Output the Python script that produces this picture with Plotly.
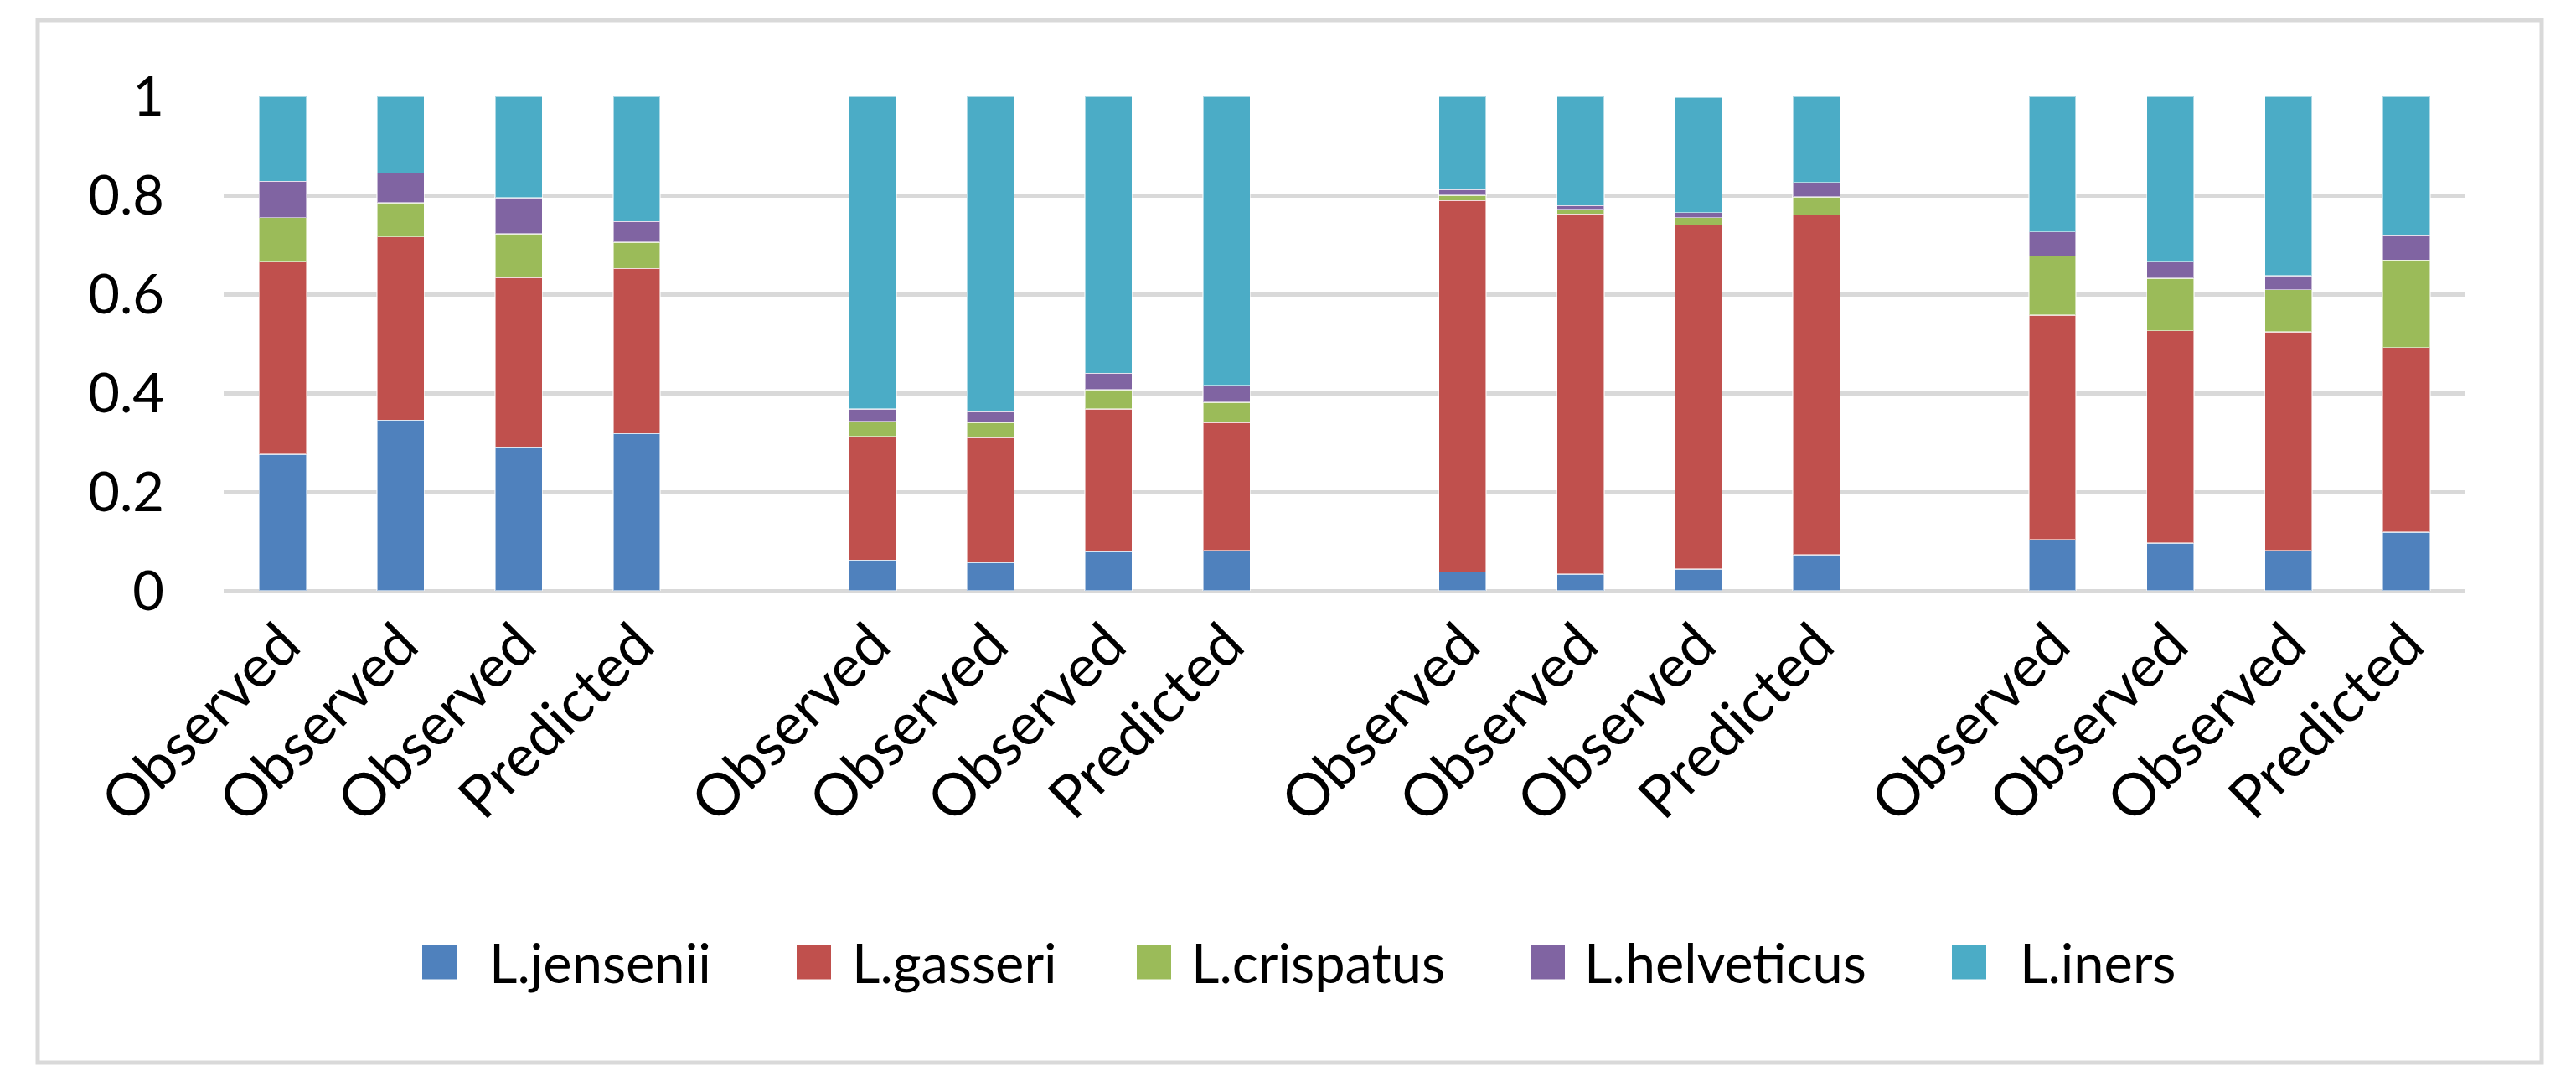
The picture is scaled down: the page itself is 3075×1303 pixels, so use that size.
import plotly.graph_objects as go

# ---- data ----
labels = ["Observed", "Observed", "Observed", "Predicted"] * 4
series = ["L.jensenii", "L.gasseri", "L.crispatus", "L.helveticus", "L.iners"]
jensenii   = [0.276, 0.345, 0.291, 0.318, 0.062, 0.058, 0.079, 0.082,
              0.038, 0.034, 0.044, 0.073, 0.104, 0.097, 0.081, 0.119]
gasseri    = [0.389, 0.371, 0.343, 0.334, 0.250, 0.252, 0.289, 0.258,
              0.751, 0.728, 0.696, 0.687, 0.454, 0.429, 0.443, 0.373]
crispatus  = [0.090, 0.069, 0.088, 0.053, 0.030, 0.030, 0.039, 0.041,
              0.011, 0.009, 0.015, 0.037, 0.119, 0.106, 0.085, 0.177]
helveticus = [0.073, 0.060, 0.073, 0.042, 0.026, 0.023, 0.033, 0.035,
              0.012, 0.008, 0.010, 0.029, 0.049, 0.033, 0.028, 0.050]
iners      = [0.172, 0.155, 0.205, 0.253, 0.632, 0.637, 0.560, 0.584,
              0.188, 0.221, 0.233, 0.174, 0.274, 0.335, 0.363, 0.281]
values = [jensenii, gasseri, crispatus, helveticus, iners]
colors = ["#4F81BD", "#C0504D", "#9BBB59", "#8064A2", "#4BACC6"]

per_group = 4
positions = [(i // per_group) * (per_group + 1) + (i % per_group) for i in range(len(labels))]
n_slots = max(positions) + 1

# ---- layout constants (pixels) ----
W, H = 3075, 1303
L, R, T, B = 267, 132, 115, 598
pw, ph = W - L - R, H - T - B
FONT = "Lato"
FS = 65

def px_x(p):
    return (p - L) / pw

def px_y(p):
    return (H - B - p) / ph

fig = go.Figure()
for name, vals, col in zip(series, values, colors):
    fig.add_trace(go.Bar(
        x=positions, y=vals, name=name, width=0.4,
        marker=dict(color=col, line=dict(color="rgba(255,255,255,0.55)", width=1.5)),
        showlegend=False,
    ))

shapes = [dict(type="rect", xref="paper", yref="paper",
               x0=px_x(45), x1=px_x(3034), y0=px_y(1268), y1=px_y(24),
               line=dict(color="#D9D9D9", width=5), layer="below")]
annotations = []
sq_x = [504, 951, 1357, 1827, 2330]
tx_x = [582, 1015, 1420, 1889, 2409]
sq = 41
ly = 1148
for name, col, sx, tx in zip(series, colors, sq_x, tx_x):
    shapes.append(dict(type="rect", xref="paper", yref="paper",
                       x0=px_x(sx), x1=px_x(sx + sq), y0=px_y(ly + sq / 2), y1=px_y(ly - sq / 2),
                       fillcolor=col, line=dict(width=0)))
    annotations.append(dict(xref="paper", yref="paper", x=px_x(tx), y=px_y(ly),
                            xanchor="left", yanchor="middle", showarrow=False,
                            text=name, font=dict(family=FONT, size=FS, color="black")))

fig.update_layout(
    width=W, height=H,
    margin=dict(l=L, r=R, t=T, b=B, pad=0),
    barmode="stack",
    plot_bgcolor="white", paper_bgcolor="white",
    font=dict(family=FONT, size=FS, color="black"),
    shapes=shapes, annotations=annotations,
    showlegend=False,
)
fig.update_xaxes(
    range=[-0.5, n_slots - 0.5], tickmode="array", tickvals=positions, ticktext=labels,
    tickangle=-45, showgrid=False, zeroline=False, showline=False, ticks="",
    tickfont=dict(family=FONT, size=70, color="black"), ticklabelstandoff=8,
)
fig.update_yaxes(
    range=[0, 1], dtick=0.2, tick0=0, showgrid=True, gridcolor="#D9D9D9", gridwidth=5,
    zeroline=True, zerolinecolor="#D9D9D9", zerolinewidth=5, showline=False, ticks="",
    tickfont=dict(family=FONT, size=FS, color="black"), ticklabelstandoff=70,
)

fig.write_html("out.html", config={"displayModeBar": False},
               post_script="document.body.style.margin='0';document.body.style.overflow='hidden';")
